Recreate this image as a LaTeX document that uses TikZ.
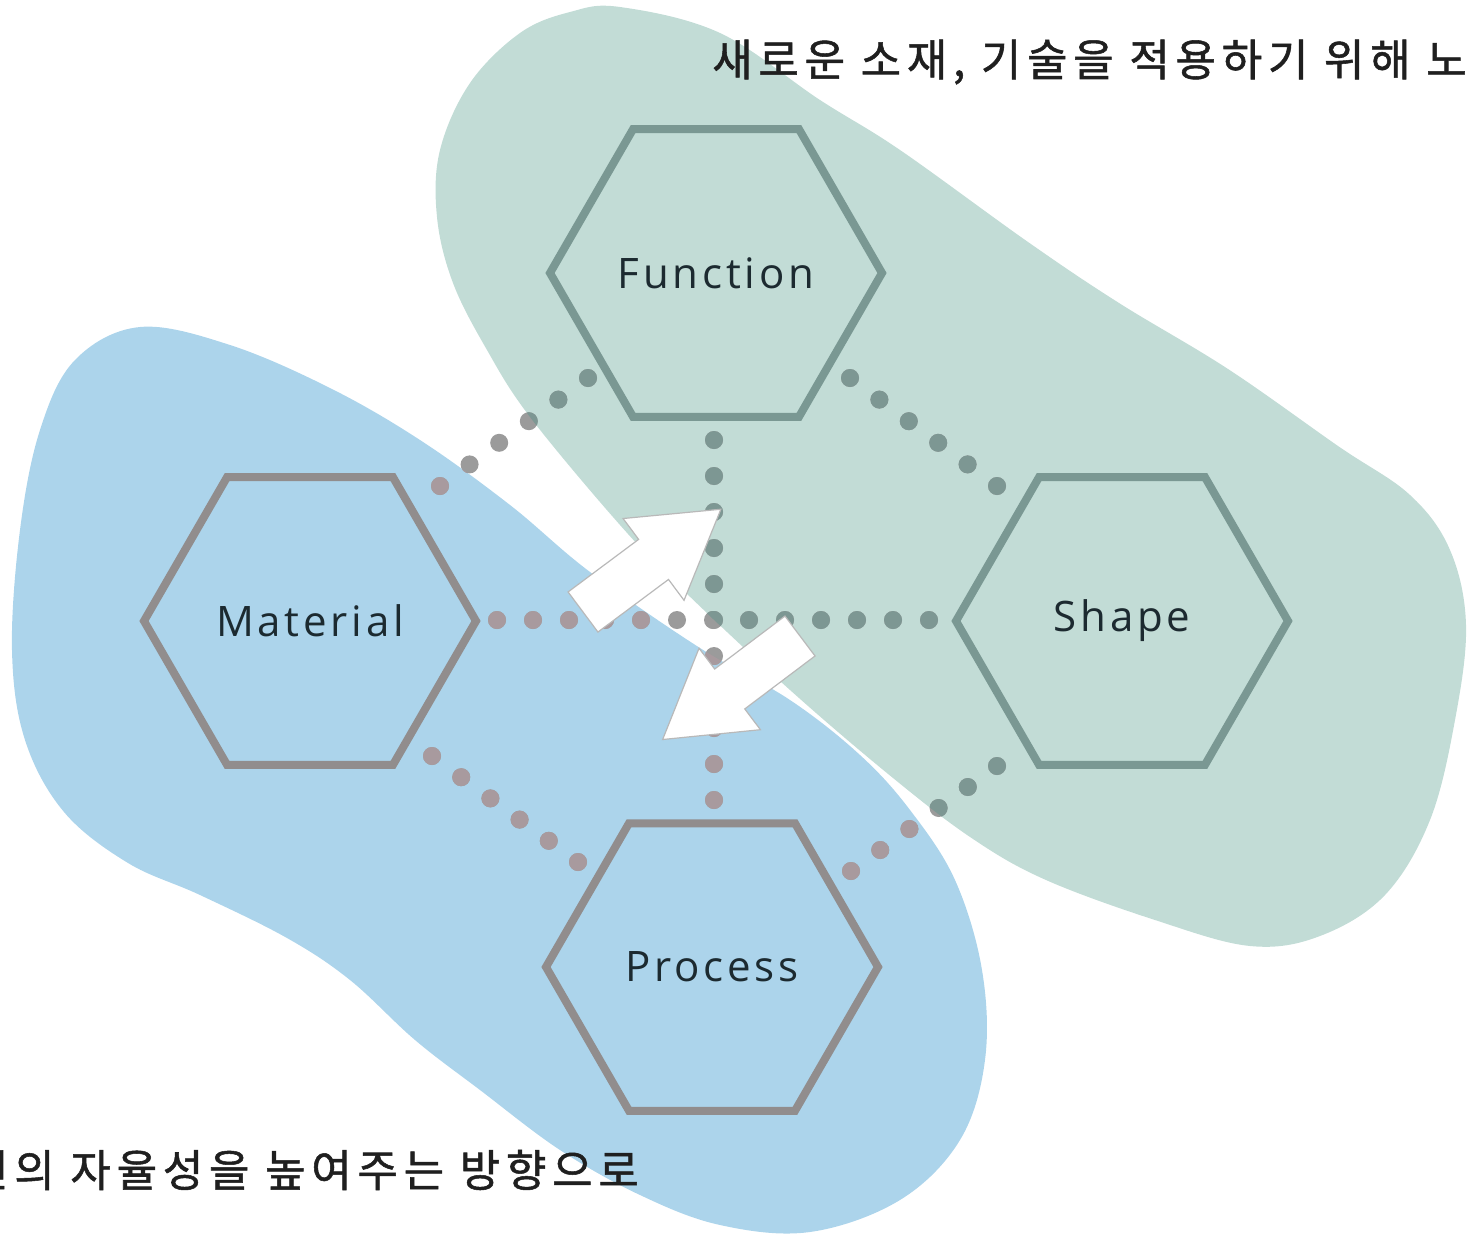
\documentclass[tikz,border=0pt]{standalone}
\usepackage{fontspec}
\setmainfont{Open Sans}
\newfontfamily\kofont[LetterSpace=13,FakeBold=1.2]{Noto Sans CJK KR}
\newfontfamily\labelfont[LetterSpace=9]{Open Sans}
\usetikzlibrary{shapes.geometric,calc}

\definecolor{greenblob}{RGB}{194,220,214}
\definecolor{blueblob}{RGB}{172,212,235}
\definecolor{tealline}{RGB}{122,152,147}
\definecolor{greyline}{RGB}{145,141,141}
\definecolor{dotgrey}{RGB}{155,155,155}
\definecolor{dotblue}{RGB}{168,154,158}
\definecolor{dotteal}{RGB}{125,151,147}
\definecolor{labeltext}{RGB}{28,42,48}
\definecolor{arrowedge}{RGB}{185,185,185}

% blob outlines
\newcommand\bluepath{plot[smooth cycle, tension=0.6] coordinates {(140,327) (230,345) (330,388) (420,440) (510,505) (590,572) (700,648) (790,700) (860,755) (910,810) (955,880) (982,970) (985,1060) (960,1140) (900,1200) (810,1232) (720,1225) (640,1195) (560,1150) (480,1090) (415,1040) (350,980) (287,938) (200,895) (128,863) (64,812) (25,740) (12,650) (20,530) (40,430) (75,360)}}
\newcommand\greenpath{plot[smooth cycle, tension=0.6] coordinates {(620,7) (720,33) (820,100) (900,150) (1028,242) (1119,303) (1228,369) (1338,446) (1410,495) (1450,550) (1466,625) (1455,720) (1430,820) (1385,895) (1320,936) (1250,946) (1155,920) (1046,880) (973,839) (893,778) (790,690) (683,590) (620,525) (530,417) (487,350) (453,283) (437,217) (440,150) (470,83) (520,33) (570,12)}}

% one dotted link: first dot, last dot, number of gaps
\newcommand\dotlink[3]{\foreach \k in {0,...,#3} \fill ($(#1)!\k/#3!(#2)$) circle (9pt);}
\newcommand\alldots{%
  \dotlink{fm-a}{fm-b}{5}
  \dotlink{fs-a}{fs-b}{5}
  \dotlink{fp-a}{fp-b}{10}
  \dotlink{ms-a}{ms-b}{12}
  \dotlink{mp-a}{mp-b}{5}
  \dotlink{sp-a}{sp-b}{5}}

\begin{document}
\begin{tikzpicture}[x=1pt,y=-1pt,
  hexbox/.style={regular polygon, regular polygon sides=6, minimum size=332pt, inner sep=0pt, line width=8pt, font=\labelfont\fontsize{42}{48}\selectfont, text=labeltext},
  kotext/.style={inner sep=0pt, font=\kofont\fontsize{44}{50}\selectfont, text=black!88},
  blockarrow/.pic={\draw[fill=white, draw=arrowedge, line width=1.2pt] (0,-25) -- (88,-25) -- (88,-51) -- (172,0) -- (88,51) -- (88,25) -- (0,25) -- cycle;}]
\clip (0,0) rectangle (1472,1234);

% backgrounds
\fill[blueblob] \bluepath;
\fill[greenblob] \greenpath;

% hexagons
\node[hexbox, draw=tealline] (fun) at (716,273) {Function};
\node[hexbox, draw=greyline] (mat) at (310,621) {Material};
\node[hexbox, draw=tealline] (shp) at (1122,621) {Shape};
\node[hexbox, draw=greyline] (prc) at (712,967) {Process};

% ends of the dotted links
\coordinate (fm-a) at (588,378); \coordinate (fm-b) at (440,486);
\coordinate (fs-a) at (850,378); \coordinate (fs-b) at (997,486);
\coordinate (fp-a) at (714,440); \coordinate (fp-b) at (714,800);
\coordinate (ms-a) at (497,620); \coordinate (ms-b) at (929,620);
\coordinate (mp-a) at (432,756); \coordinate (mp-b) at (578,862);
\coordinate (sp-a) at (997,766); \coordinate (sp-b) at (851,871);

% dots, coloured by the area under them
\begin{scope}[fill=dotgrey] \alldots \end{scope}
\begin{scope}
  \clip \bluepath;
  \begin{scope}[fill=dotblue] \alldots \end{scope}
\end{scope}
\begin{scope}
  \clip \greenpath;
  \begin{scope}[fill=dotteal] \alldots \end{scope}
\end{scope}

% white arrows
\pic[rotate=36.7] at (583,612) {blockarrow};
\pic[rotate=217] at (800,636) {blockarrow};

% texts
\node[kotext, anchor=west] (toptext) at (712,62) {새로운 소재, 기술을 적용하기 위해 노};
\node[kotext, anchor=west] (bottext) at (-32,1170) {인의 자율성을 높여주는 방향으로};
\end{tikzpicture}
\end{document}
